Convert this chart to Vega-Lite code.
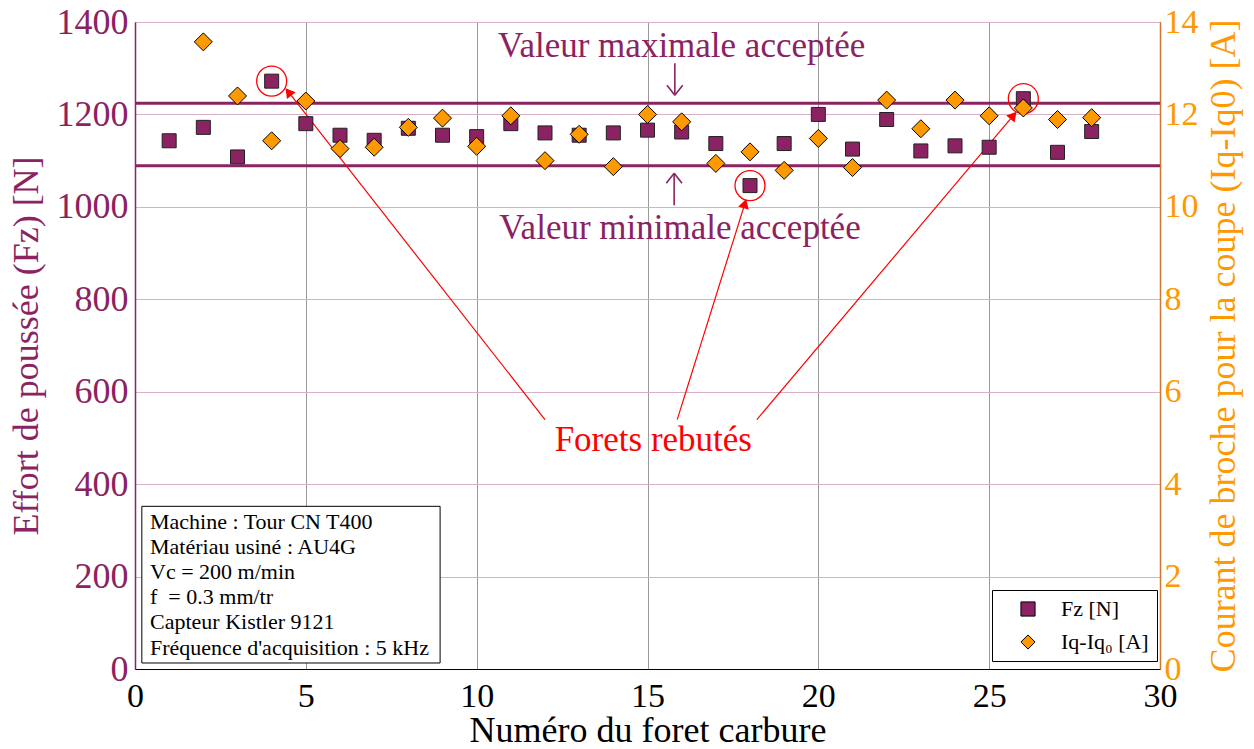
{
  "$schema": "https://vega.github.io/schema/vega-lite/v6.json",
  "width": 1025,
  "height": 647,
  "autosize": {"type": "none"},
  "padding": {"left": 135, "top": 22, "right": 94, "bottom": 80},
  "background": "white",
  "config": {
    "font": "Liberation Serif",
    "view": {"stroke": "black", "strokeWidth": 1},
    "axis": {
      "labelFont": "Liberation Serif",
      "titleFont": "Liberation Serif",
      "titleFontWeight": "normal",
      "ticks": false,
      "labelFlush": false,
      "labelOverlap": false
    },
    "legend": {
      "labelFont": "Liberation Serif"
    }
  },
  "datasets": {
    "drills": [
      {"n": 1, "fz": 1143, "iq": null},
      {"n": 2, "fz": 1172, "iq": 13.57},
      {"n": 3, "fz": 1108, "iq": 12.40},
      {"n": 4, "fz": 1272, "iq": 11.43},
      {"n": 5, "fz": 1180, "iq": 12.29},
      {"n": 6, "fz": 1155, "iq": 11.26},
      {"n": 7, "fz": 1144, "iq": 11.29},
      {"n": 8, "fz": 1170, "iq": 11.72},
      {"n": 9, "fz": 1155, "iq": 11.92},
      {"n": 10, "fz": 1152, "iq": 11.31},
      {"n": 11, "fz": 1180, "iq": 11.97},
      {"n": 12, "fz": 1160, "iq": 11.00},
      {"n": 13, "fz": 1155, "iq": 11.57},
      {"n": 14, "fz": 1160, "iq": 10.87},
      {"n": 15, "fz": 1166, "iq": 12.00},
      {"n": 16, "fz": 1162, "iq": 11.84},
      {"n": 17, "fz": 1137, "iq": 10.94},
      {"n": 18, "fz": 1046, "iq": 11.19},
      {"n": 19, "fz": 1137, "iq": 10.79},
      {"n": 20, "fz": 1200, "iq": 11.48},
      {"n": 21, "fz": 1125, "iq": 10.85},
      {"n": 22, "fz": 1189, "iq": 12.31},
      {"n": 23, "fz": 1121, "iq": 11.69},
      {"n": 24, "fz": 1132, "iq": 12.31},
      {"n": 25, "fz": 1129, "iq": 11.97},
      {"n": 26, "fz": 1234, "iq": 12.14},
      {"n": 27, "fz": 1118, "iq": 11.89},
      {"n": 28, "fz": 1163, "iq": 11.93}
    ],
    "arrows": [
      {"id": "a", "x": 12.0, "y": 539.7, "x2": 4.49, "y2": 1248.6},
      {"id": "b", "x": 15.87, "y": 539.7, "x2": 17.85, "y2": 1007},
      {"id": "c", "x": 18.2, "y": 539.7, "x2": 25.71, "y2": 1198}
    ],
    "limitArrows": [
      {"part": "down stem", "x": 15.80, "y": 1310.8, "x2": 15.80, "y2": 1241.6},
      {"part": "down head left", "x": 15.57, "y": 1263.2, "x2": 15.80, "y2": 1241.6},
      {"part": "down head right", "x": 16.03, "y": 1263.2, "x2": 15.80, "y2": 1241.6},
      {"part": "up stem", "x": 15.78, "y": 1003.5, "x2": 15.78, "y2": 1072.7},
      {"part": "up head left", "x": 15.55, "y": 1051.0, "x2": 15.78, "y2": 1072.7},
      {"part": "up head right", "x": 16.01, "y": 1051.0, "x2": 15.78, "y2": 1072.7}
    ]
  },
  "layer": [
    {
      "layer": [
        {
          "data": {"values": [{"limit": "max", "fz": 1224}, {"limit": "min", "fz": 1089}]},
          "mark": {"type": "rule", "color": "#8B2362", "strokeWidth": 3},
          "encoding": {
            "y": {"field": "fz", "type": "quantitative", "scale": {"domain": [0, 1400]}},
            "x": {"datum": 0, "type": "quantitative", "scale": {"domain": [0, 30]}},
            "x2": {"datum": 30}
          }
        },
        {
          "data": {"name": "limitArrows"},
          "mark": {"type": "rule", "color": "#8B2362", "strokeWidth": 1.6},
          "encoding": {
            "x": {"field": "x", "type": "quantitative"},
            "y": {"field": "y", "type": "quantitative"},
            "x2": {"field": "x2"},
            "y2": {"field": "y2"}
          }
        },
        {
          "data": {"name": "arrows"},
          "mark": {"type": "rule", "color": "#FF0000", "strokeWidth": 1.2},
          "encoding": {
            "x": {"field": "x", "type": "quantitative"},
            "y": {"field": "y", "type": "quantitative"},
            "x2": {"field": "x2"},
            "y2": {"field": "y2"}
          }
        },
        {
          "data": {"name": "arrows"},
          "transform": [{"filter": "datum.id == 'a'"}],
          "mark": {"type": "point", "shape": "triangle-up", "filled": true, "color": "#FF0000", "size": 120, "angle": 322, "opacity": 1},
          "encoding": {
            "x": {"field": "x2", "type": "quantitative"},
            "y": {"field": "y2", "type": "quantitative"}
          }
        },
        {
          "data": {"name": "arrows"},
          "transform": [{"filter": "datum.id == 'b'"}],
          "mark": {"type": "point", "shape": "triangle-up", "filled": true, "color": "#FF0000", "size": 120, "angle": 17, "opacity": 1},
          "encoding": {
            "x": {"field": "x2", "type": "quantitative"},
            "y": {"field": "y2", "type": "quantitative"}
          }
        },
        {
          "data": {"name": "arrows"},
          "transform": [{"filter": "datum.id == 'c'"}],
          "mark": {"type": "point", "shape": "triangle-up", "filled": true, "color": "#FF0000", "size": 120, "angle": 40, "opacity": 1},
          "encoding": {
            "x": {"field": "x2", "type": "quantitative"},
            "y": {"field": "y2", "type": "quantitative"}
          }
        },
        {
          "data": {"name": "drills"},
          "mark": {"type": "point", "shape": "square", "filled": true, "size": 196, "stroke": "#222222", "strokeWidth": 1, "opacity": 1},
          "encoding": {
            "x": {
              "field": "n", "type": "quantitative",
              "scale": {"domain": [0, 30], "nice": false},
              "axis": {
                "values": [0, 5, 10, 15, 20, 25, 30],
                "title": "Numéro du foret carbure",
                "titleFontSize": 36,
                "titleColor": "black",
                "titleY": 72,
                "titleBaseline": "alphabetic",
                "labelFontSize": 34,
                "labelColor": "black",
                "labelPadding": 10,
                "domainColor": "black",
                "grid": true,
                "gridColor": "#9a9a9a",
                "gridWidth": 1
              }
            },
            "y": {
              "field": "fz", "type": "quantitative",
              "scale": {"domain": [0, 1400], "nice": false},
              "axis": {
                "orient": "left",
                "values": [0, 200, 400, 600, 800, 1000, 1200, 1400],
                "format": "d",
                "title": "Effort de poussée (Fz) [N]",
                "titleFontSize": 36,
                "titleColor": "#8B2362",
                "titleAngle": -90,
                "titleX": -98,
                "titleBaseline": "alphabetic",
                "labelFontSize": 36,
                "labelColor": "#8B2362",
                "labelPadding": 7,
                "domainColor": "#8B2362",
                "domainWidth": 1.5,
                "grid": true,
                "gridColor": "#D9AFC8",
                "gridWidth": 1
              }
            },
            "color": {
              "datum": "Fz [N]", "type": "nominal",
              "scale": {"domain": ["Fz [N]", "Iq-Iq₀ [A]"], "range": ["#8B2362", "#FF9900"]},
              "legend": {
                "title": null,
                "orient": "none",
                "legendX": 857,
                "legendY": 568,
                "strokeColor": "black",
                "fillColor": "white",
                "padding": 8,
                "labelFontSize": 22,
                "labelColor": "black",
                "labelOffset": 22,
                "symbolOffset": 17,
                "symbolSize": 200,
                "symbolStrokeColor": "black",
                "symbolStrokeWidth": 1,
                "rowPadding": 11
              }
            },
            "shape": {
              "datum": "Fz [N]", "type": "nominal",
              "scale": {"domain": ["Fz [N]", "Iq-Iq₀ [A]"], "range": ["square", "diamond"]},
              "legend": {"title": null}
            }
          }
        },
        {
          "data": {"name": "drills"},
          "transform": [{"filter": {"field": "n", "oneOf": [4, 18, 26]}}],
          "mark": {"type": "point", "shape": "circle", "filled": false, "stroke": "#FF0000", "strokeWidth": 1.3, "size": 900, "opacity": 1},
          "encoding": {
            "x": {"field": "n", "type": "quantitative"},
            "y": {"field": "fz", "type": "quantitative"}
          }
        },
        {
          "data": {"values": [
            {"x": 16.0, "y": 1324, "label": "Valeur maximale acceptée"},
            {"x": 15.95, "y": 931, "label": "Valeur minimale acceptée"}
          ]},
          "mark": {"type": "text", "font": "Liberation Serif", "fontSize": 35, "color": "#8B2362", "align": "center", "baseline": "alphabetic"},
          "encoding": {
            "x": {"field": "x", "type": "quantitative"},
            "y": {"field": "y", "type": "quantitative"},
            "text": {"field": "label"}
          }
        },
        {
          "data": {"values": [{"x": 15.17, "y": 472, "label": "Forets rebutés"}]},
          "mark": {"type": "text", "font": "Liberation Serif", "fontSize": 35, "color": "#FF0000", "align": "center", "baseline": "alphabetic"},
          "encoding": {
            "x": {"field": "x", "type": "quantitative"},
            "y": {"field": "y", "type": "quantitative"},
            "text": {"field": "label"}
          }
        },
        {
          "data": {"values": [{"x": 0.2, "y": 13, "x2": 8.93, "y2": 352}]},
          "mark": {"type": "rect", "fill": "white", "stroke": "black", "strokeWidth": 1},
          "encoding": {
            "x": {"field": "x", "type": "quantitative"},
            "y": {"field": "y", "type": "quantitative"},
            "x2": {"field": "x2"},
            "y2": {"field": "y2"}
          }
        },
        {
          "data": {"values": [{"x": 0.44, "y": 304, "info": "Machine : Tour CN T400\nMatériau usiné : AU4G\nVc = 200 m/min\nf \u00a0= 0.3 mm/tr\nCapteur Kistler 9121\nFréquence d'acquisition : 5 kHz"}]},
          "mark": {"type": "text", "font": "Liberation Serif", "fontSize": 22, "color": "black", "align": "left", "baseline": "alphabetic", "lineBreak": "\n", "lineHeight": 25.2},
          "encoding": {
            "x": {"field": "x", "type": "quantitative"},
            "y": {"field": "y", "type": "quantitative"},
            "text": {"field": "info"}
          }
        }
      ]
    },
    {
      "data": {"name": "drills"},
      "mark": {"type": "point", "shape": "diamond", "filled": true, "size": 324, "stroke": "black", "strokeWidth": 1, "opacity": 1},
      "encoding": {
        "x": {"field": "n", "type": "quantitative"},
        "y": {
          "field": "iq", "type": "quantitative",
          "scale": {"domain": [0, 14], "nice": false},
          "axis": {
            "orient": "right",
            "values": [0, 2, 4, 6, 8, 10, 12, 14],
            "title": "Courant de broche pour la coupe (Iq-Iq0) [A]",
            "titleFontSize": 36,
            "titleColor": "#FF9900",
            "titleAngle": -90,
            "titleX": 74,
            "titleBaseline": "alphabetic",
            "labelFontSize": 34,
            "labelColor": "#FF9900",
            "labelPadding": 4,
            "domainColor": "#D2752F",
            "domainWidth": 1.5,
            "grid": false
          }
        },
        "color": {"datum": "Iq-Iq₀ [A]", "type": "nominal"},
        "shape": {"datum": "Iq-Iq₀ [A]", "type": "nominal"}
      }
    }
  ],
  "resolve": {"scale": {"y": "independent"}}
}
